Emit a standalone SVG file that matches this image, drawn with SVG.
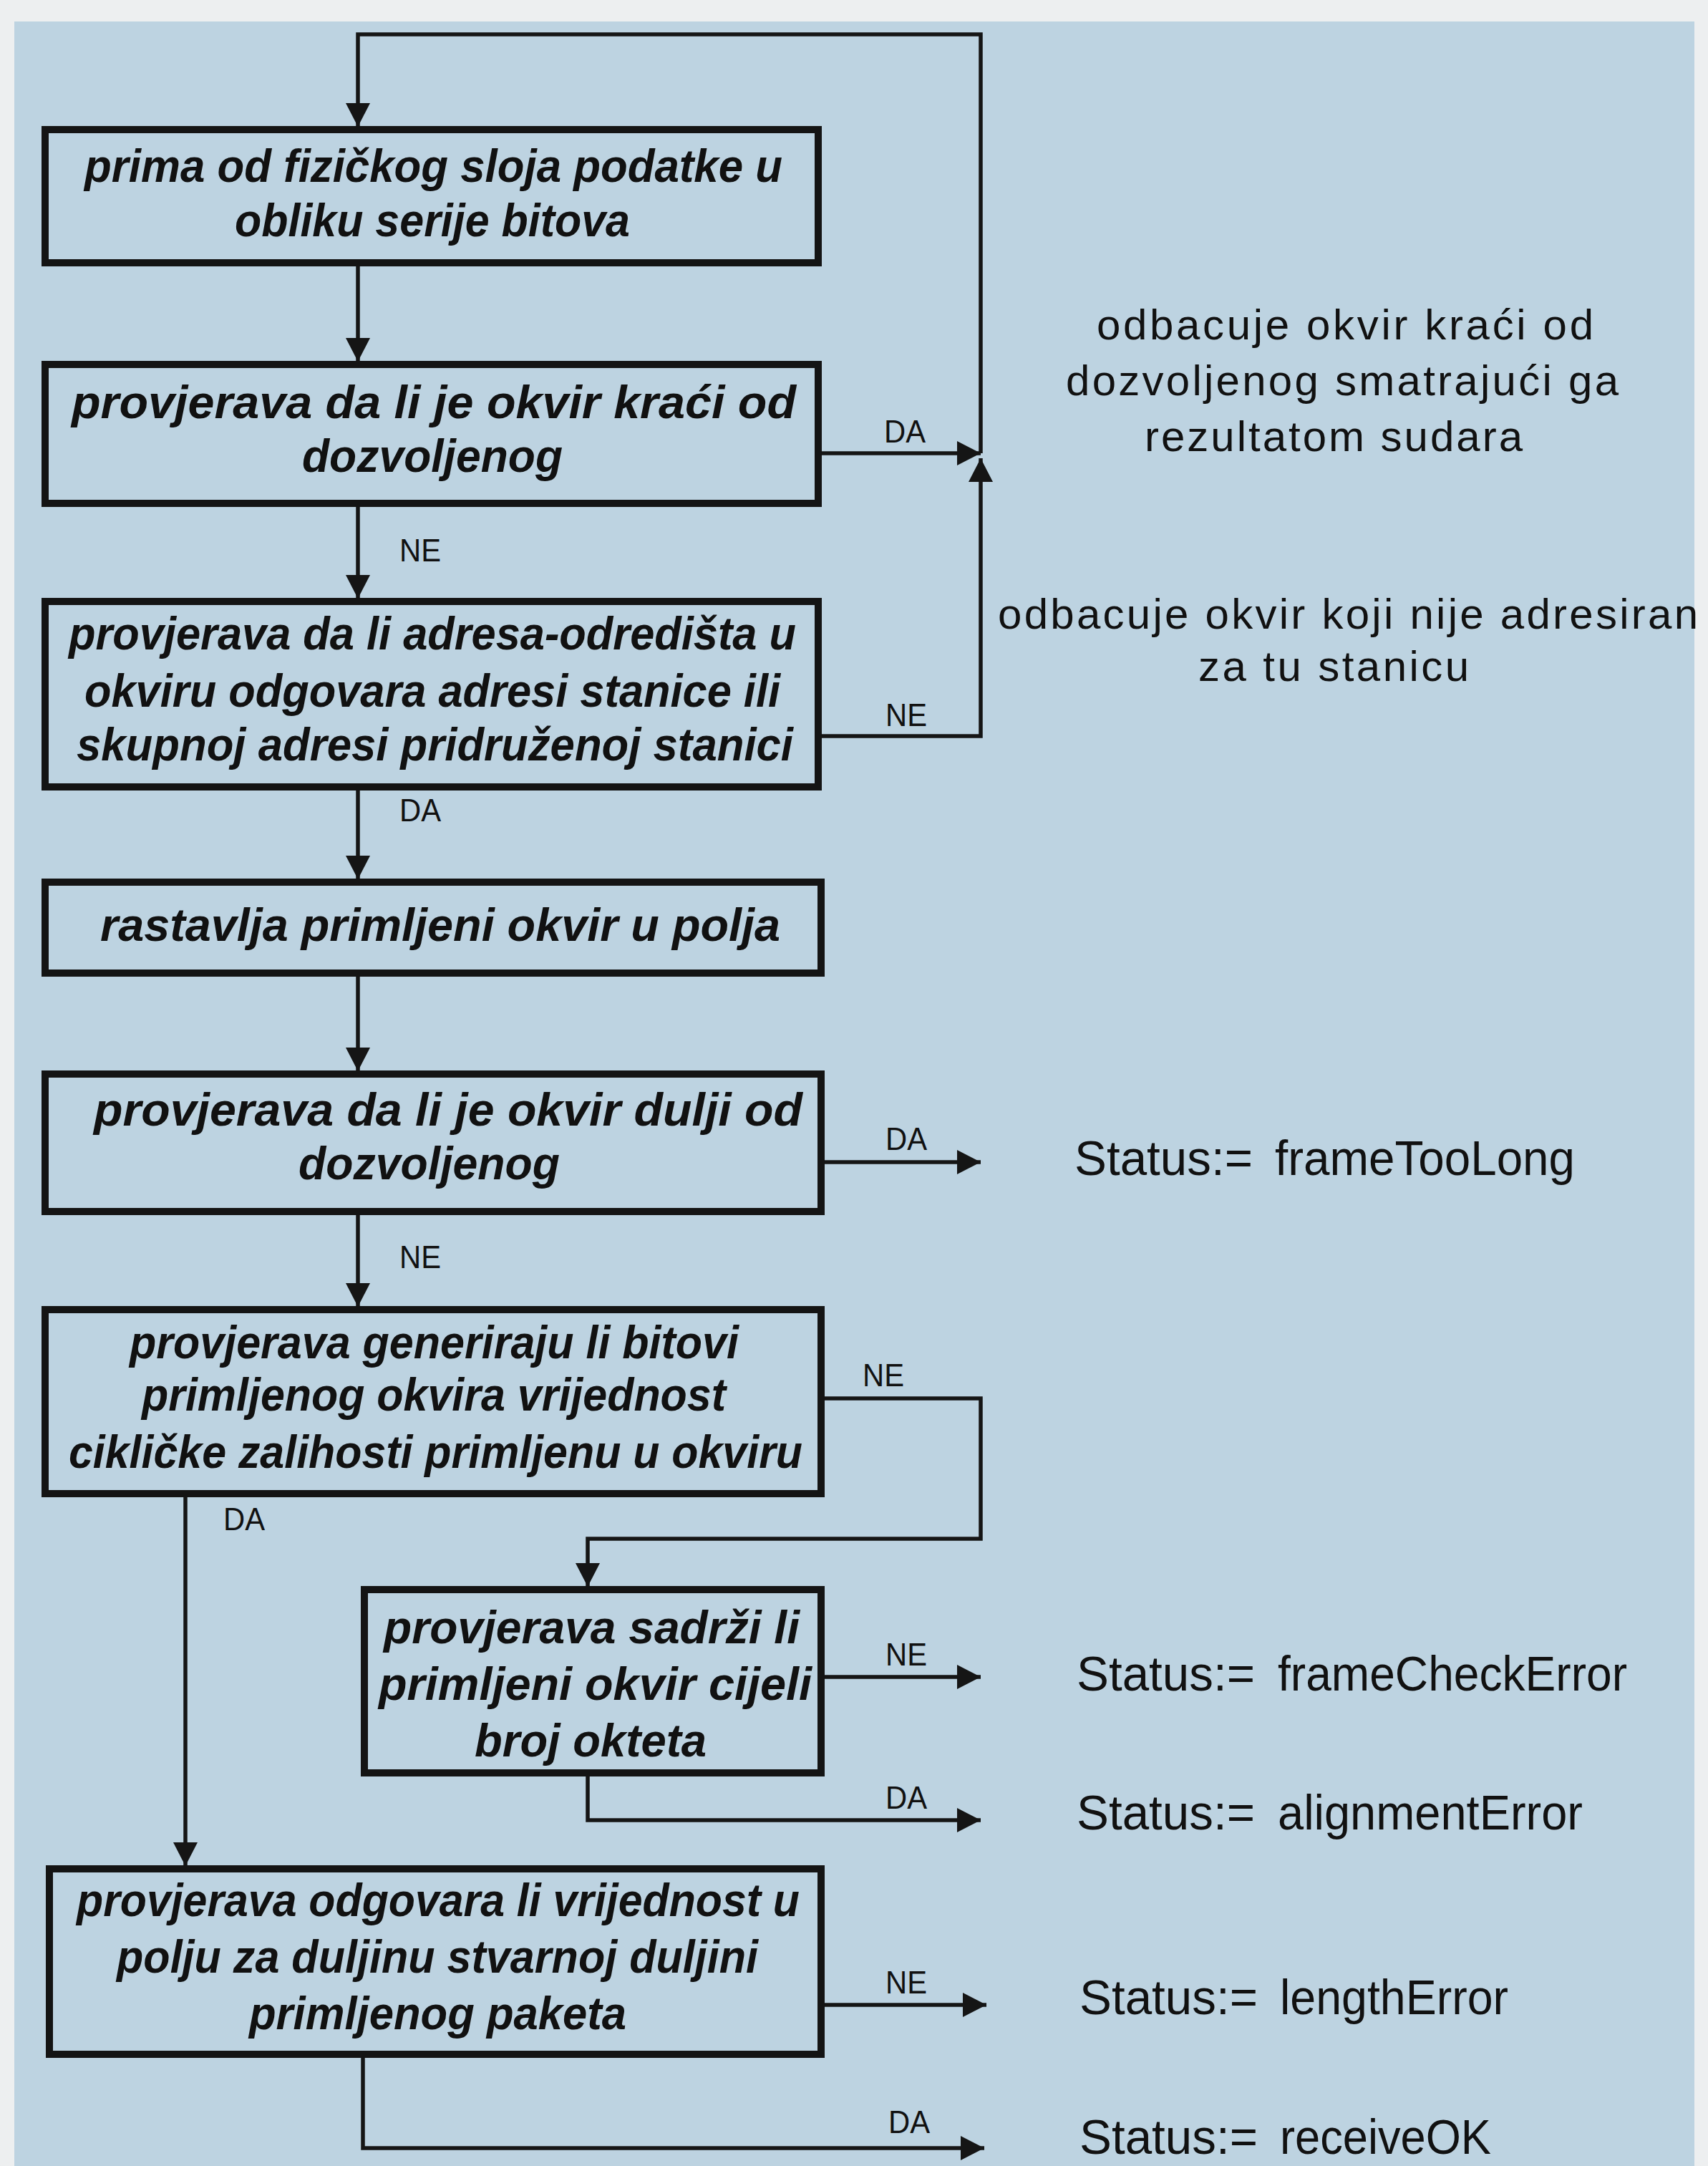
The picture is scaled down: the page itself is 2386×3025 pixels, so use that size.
<svg xmlns="http://www.w3.org/2000/svg" width="2386" height="3025" viewBox="0 0 2386 3025">
  <defs>
    <marker id="arrow" markerUnits="userSpaceOnUse" markerWidth="36" markerHeight="36" refX="33" refY="17" orient="auto">
      <path d="M0,0 L33,17 L0,34 Z" fill="#151515"/>
    </marker>
    <style>
      .box { fill: none; stroke: #141414; stroke-width: 10; }
      .conn { fill: none; stroke: #151515; stroke-width: 5.5; }
      .arr { marker-end: url(#arrow); }
      .bt { font-family: "Liberation Sans", Arial, sans-serif; font-weight: bold; font-style: italic; font-size: 64px; fill: #111; }
      .lbl { font-family: "Liberation Sans", Arial, sans-serif; font-size: 44px; fill: #111; }
      .note { font-family: "Liberation Sans", Arial, sans-serif; font-size: 60px; fill: #111; }
      .st { font-family: "Liberation Sans", Arial, sans-serif; font-size: 68px; fill: #111; }
    </style>
  </defs>

  <!-- page background -->
  <rect x="0" y="0" width="2386" height="3025" fill="#edeff0"/>
  <rect x="20" y="30" width="2347" height="2995" fill="#bdd3e1"/>

  <!-- connectors -->
  <g id="connectors">
    <!-- return loop to the first step -->
    <path class="conn arr" d="M1370,633 V48 H500 V177"/>
    <path class="conn arr" d="M500,372 V505"/>
    <path class="conn arr" d="M1148,633 H1370"/>
    <text class="lbl" x="1235" y="618" textLength="58" lengthAdjust="spacingAndGlyphs">DA</text>
    <path class="conn arr" d="M500,708 V836"/>
    <text class="lbl" x="558" y="784" textLength="58" lengthAdjust="spacingAndGlyphs">NE</text>
    <path class="conn arr" d="M1148,1028 H1370 V640"/>
    <text class="lbl" x="1237" y="1014" textLength="58" lengthAdjust="spacingAndGlyphs">NE</text>
    <path class="conn arr" d="M500,1104 V1228"/>
    <text class="lbl" x="558" y="1147" textLength="58" lengthAdjust="spacingAndGlyphs">DA</text>
    <path class="conn arr" d="M500,1364 V1496"/>
    <path class="conn arr" d="M1150,1623 H1370"/>
    <text class="lbl" x="1237" y="1606" textLength="58" lengthAdjust="spacingAndGlyphs">DA</text>
    <path class="conn arr" d="M500,1697 V1825"/>
    <text class="lbl" x="558" y="1771" textLength="58" lengthAdjust="spacingAndGlyphs">NE</text>
    <path class="conn arr" d="M1150,1953 H1370 V2149 H821 V2216"/>
    <text class="lbl" x="1205" y="1936" textLength="58" lengthAdjust="spacingAndGlyphs">NE</text>
    <path class="conn arr" d="M259,2091 V2606"/>
    <text class="lbl" x="312" y="2137" textLength="58" lengthAdjust="spacingAndGlyphs">DA</text>
    <path class="conn arr" d="M1152,2342 H1370"/>
    <text class="lbl" x="1237" y="2326" textLength="58" lengthAdjust="spacingAndGlyphs">NE</text>
    <path class="conn arr" d="M821,2481 V2542 H1370"/>
    <text class="lbl" x="1237" y="2526" textLength="58" lengthAdjust="spacingAndGlyphs">DA</text>
    <path class="conn arr" d="M1152,2800 H1378"/>
    <text class="lbl" x="1237" y="2784" textLength="58" lengthAdjust="spacingAndGlyphs">NE</text>
    <path class="conn arr" d="M507,2874 V3000 H1375"/>
    <text class="lbl" x="1241" y="2979" textLength="58" lengthAdjust="spacingAndGlyphs">DA</text>
  </g>

  <g id="receive">
    <rect class="box" x="63" y="181" width="1080" height="186"/>
    <text class="bt" x="118" y="254" textLength="975" lengthAdjust="spacingAndGlyphs">prima od fizičkog sloja podatke u</text>
    <text class="bt" x="328" y="330" textLength="552" lengthAdjust="spacingAndGlyphs">obliku serije bitova</text>
  </g>

  <g id="check-short">
    <rect class="box" x="63" y="509" width="1080" height="194"/>
    <text class="bt" x="100" y="584" textLength="1012" lengthAdjust="spacingAndGlyphs">provjerava da li je okvir kraći od</text>
    <text class="bt" x="422" y="659" textLength="364" lengthAdjust="spacingAndGlyphs">dozvoljenog</text>
  </g>

  <g id="check-address">
    <rect class="box" x="63" y="840" width="1080" height="259"/>
    <text class="bt" x="96" y="907" textLength="1016" lengthAdjust="spacingAndGlyphs">provjerava da li adresa-odredišta u</text>
    <text class="bt" x="118" y="987" textLength="972" lengthAdjust="spacingAndGlyphs">okviru odgovara adresi stanice ili</text>
    <text class="bt" x="107" y="1062" textLength="1001" lengthAdjust="spacingAndGlyphs">skupnoj adresi pridruženoj stanici</text>
  </g>

  <g id="split-fields">
    <rect class="box" x="63" y="1232" width="1084" height="127"/>
    <text class="bt" x="140" y="1314" textLength="950" lengthAdjust="spacingAndGlyphs">rastavlja primljeni okvir u polja</text>
  </g>

  <g id="check-long">
    <rect class="box" x="63" y="1500" width="1084" height="192"/>
    <text class="bt" x="131" y="1572" textLength="990" lengthAdjust="spacingAndGlyphs">provjerava da li je okvir dulji od</text>
    <text class="bt" x="417" y="1647" textLength="365" lengthAdjust="spacingAndGlyphs">dozvoljenog</text>
  </g>

  <g id="check-crc">
    <rect class="box" x="63" y="1829" width="1084" height="257"/>
    <text class="bt" x="181" y="1897" textLength="851" lengthAdjust="spacingAndGlyphs">provjerava generiraju li bitovi</text>
    <text class="bt" x="198" y="1970" textLength="816" lengthAdjust="spacingAndGlyphs">primljenog okvira vrijednost</text>
    <text class="bt" x="96" y="2050" textLength="1025" lengthAdjust="spacingAndGlyphs">cikličke zalihosti primljenu u okviru</text>
  </g>

  <g id="check-octets">
    <rect class="box" x="509" y="2220" width="638" height="256"/>
    <text class="bt" x="536" y="2295" textLength="581" lengthAdjust="spacingAndGlyphs">provjerava sadrži li</text>
    <text class="bt" x="529" y="2374" textLength="605" lengthAdjust="spacingAndGlyphs">primljeni okvir cijeli</text>
    <text class="bt" x="663" y="2453" textLength="324" lengthAdjust="spacingAndGlyphs">broj okteta</text>
  </g>

  <g id="check-length">
    <rect class="box" x="69" y="2610" width="1078" height="259"/>
    <text class="bt" x="107" y="2676" textLength="1010" lengthAdjust="spacingAndGlyphs">provjerava odgovara li vrijednost u</text>
    <text class="bt" x="163" y="2755" textLength="896" lengthAdjust="spacingAndGlyphs">polju za duljinu stvarnoj duljini</text>
    <text class="bt" x="348" y="2834" textLength="527" lengthAdjust="spacingAndGlyphs">primljenog paketa</text>
  </g>

  <g id="discard-short">
    <text class="note" x="1532" y="474" textLength="694" lengthAdjust="spacing">odbacuje okvir kraći od</text>
    <text class="note" x="1489" y="552" textLength="772" lengthAdjust="spacing">dozvoljenog smatrajući ga</text>
    <text class="note" x="1599" y="630" textLength="528" lengthAdjust="spacing">rezultatom sudara</text>
  </g>

  <g id="discard-address">
    <text class="note" x="1394" y="878" textLength="978" lengthAdjust="spacing">odbacuje okvir koji nije adresiran</text>
    <text class="note" x="1674" y="951" textLength="378" lengthAdjust="spacing">za tu stanicu</text>
  </g>

  <g id="status-frameTooLong">
    <text class="st" x="1501" y="1641" textLength="249" lengthAdjust="spacingAndGlyphs">Status:=</text>
    <text class="st" x="1781" y="1641" textLength="419" lengthAdjust="spacingAndGlyphs">frameTooLong</text>
  </g>
  <g id="status-frameCheckError">
    <text class="st" x="1504" y="2361" textLength="249" lengthAdjust="spacingAndGlyphs">Status:=</text>
    <text class="st" x="1785" y="2361" textLength="488" lengthAdjust="spacingAndGlyphs">frameCheckError</text>
  </g>
  <g id="status-alignmentError">
    <text class="st" x="1504" y="2555" textLength="249" lengthAdjust="spacingAndGlyphs">Status:=</text>
    <text class="st" x="1785" y="2555" textLength="426" lengthAdjust="spacingAndGlyphs">alignmentError</text>
  </g>
  <g id="status-lengthError">
    <text class="st" x="1508" y="2813" textLength="249" lengthAdjust="spacingAndGlyphs">Status:=</text>
    <text class="st" x="1788" y="2813" textLength="319" lengthAdjust="spacingAndGlyphs">lengthError</text>
  </g>
  <g id="status-receiveOK">
    <text class="st" x="1508" y="3008" textLength="249" lengthAdjust="spacingAndGlyphs">Status:=</text>
    <text class="st" x="1788" y="3008" textLength="295" lengthAdjust="spacingAndGlyphs">receiveOK</text>
  </g>
</svg>
